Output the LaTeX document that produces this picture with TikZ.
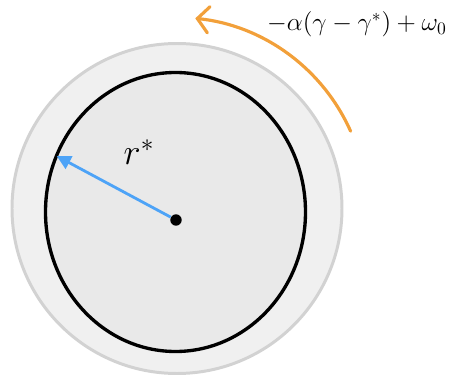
\documentclass[tikz,border=0pt]{standalone}
\usepackage{amsmath}
\usetikzlibrary{positioning, arrows.meta, calc}

\definecolor{ringfill}{HTML}{F0F0F0}
\definecolor{ringline}{HTML}{D2D2D2}
\definecolor{discfill}{HTML}{E9E9E9}
\definecolor{radblue}{HTML}{4DA3F7}
\definecolor{spinorange}{HTML}{F2A03A}

\begin{document}
\begin{tikzpicture}[
    x=0.02cm, y=-0.02cm, % pixel units, y pointing down
    outer ring/.style={fill=ringfill, draw=ringline, line width=1.7pt},
    inner disc/.style={fill=discfill, draw=black, line width=1.9pt},
    dot/.style={circle, fill=black, inner sep=0pt, minimum size=6.5pt},
    radius arrow/.style={radblue, line width=1.6pt, -{Triangle[length=8pt, width=8pt]}},
    spin arrow/.style={spinorange, line width=1.8pt, line cap=round,
        -{Straight Barb[length=6.5pt, width=15pt, line cap=round]}}
]
    \useasboundingbox (0,0) rectangle (451,379);

    % The two discs
    \filldraw[outer ring] (177,208.5) circle[radius=165];
    \filldraw[inner disc] (175.5,212) ellipse[x radius=130, y radius=139.5];

    % Place the nodes
    \node[dot] (c) at (176,220) {};
    \coordinate (rim) at (56.7,156);
    \coordinate (spin start) at (350.6,131.2);
    \node[font=\fontsize{22}{26}\selectfont] (rlabel) at (139,152) {$r^*$};
    \node[font=\Large] (rate) at (357,24) {$-\alpha(\gamma-\gamma^*)+\omega_0$};

    % Radius and rotation
    \draw[radius arrow] (c) -- (rim);
    \draw[spin arrow] (spin start) arc[start angle=-24, end angle=-84, radius=192];
\end{tikzpicture}
\end{document}
